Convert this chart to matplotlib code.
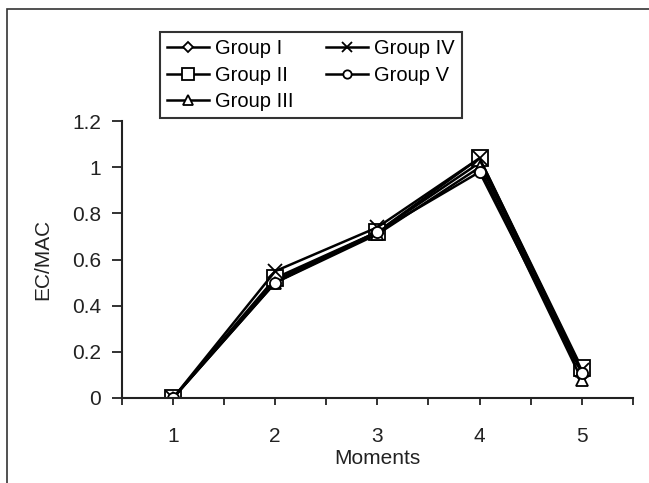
import matplotlib.pyplot as plt
from matplotlib.patches import Rectangle

plt.rcParams['font.family'] = ['Liberation Sans', 'DejaVu Sans']

moments = [1, 2, 3, 4, 5]
group_i = [0, 0.51, 0.72, 1.02, 0.10]
group_ii = [0, 0.52, 0.72, 1.04, 0.13]
group_iii = [0, 0.50, 0.71, 1.00, 0.08]
group_iv = [0, 0.55, 0.74, 1.04, 0.12]
group_v = [0, 0.50, 0.72, 0.98, 0.11]

fig = plt.figure(figsize=(6.49, 4.83), dpi=100)
ax = fig.add_axes([0.188, 0.176, 0.787, 0.573])

# outer chart frame, runs off the right and bottom edges
fig.patches.append(Rectangle((0.0108, -0.1), 1.2, 1.081, transform=fig.transFigure,
                             fill=False, edgecolor='#333333', linewidth=1.2))

kw = dict(color='black', linewidth=1.8, markerfacecolor='white',
          markeredgecolor='black', markeredgewidth=1.3)
ax.plot(moments, group_i, marker='D', markersize=7, label='Group I', **kw)
ax.plot(moments, group_ii, marker='s', markersize=11, label='Group II', **kw)
ax.plot(moments, group_iii, marker='^', markersize=9, label='Group III', **kw)
ax.plot(moments, group_iv, marker='x', markersize=10, label='Group IV', **kw)
ax.plot(moments, group_v, marker='o', markersize=8, label='Group V', **kw)

ax.set_xlim(0.5, 5.5)
ax.set_ylim(0, 1.2)
ax.set_xticks([0.5, 1, 1.5, 2, 2.5, 3, 3.5, 4, 4.5, 5, 5.5])
ax.set_xticklabels(['', '1', '', '2', '', '3', '', '4', '', '5', ''])
ax.set_yticks([0, 0.2, 0.4, 0.6, 0.8, 1.0, 1.2])
ax.set_yticklabels(['0', '0.2', '0.4', '0.6', '0.8', '1', '1.2'])

for s in ['top', 'right']:
    ax.spines[s].set_visible(False)
for s in ['left', 'bottom']:
    ax.spines[s].set_linewidth(1.5)
    ax.spines[s].set_color('#222222')
ax.tick_params(axis='x', length=5, width=1.3, color='#222222', labelsize=15, pad=16, labelcolor='#222222')
ax.tick_params(axis='y', length=7, width=1.3, color='#222222', labelsize=15, pad=8, labelcolor='#222222')

ax.set_xlabel('Moments', fontsize=15, color='#222222', labelpad=2)
ax.set_ylabel('EC/MAC', fontsize=15, color='#222222', labelpad=14)

leg = ax.legend(ncol=2, loc='upper left', bbox_to_anchor=(160 / 649, 1 - 32 / 483),
                bbox_transform=fig.transFigure, fontsize=14.5, markerscale=0.75,
                frameon=True, fancybox=False, edgecolor='black', handlelength=2.1,
                handletextpad=0.3, columnspacing=1.6, labelspacing=0.38,
                borderpad=0.35, borderaxespad=0)
leg.get_frame().set_linewidth(1.5)

fig.savefig('out.png', dpi=100)
